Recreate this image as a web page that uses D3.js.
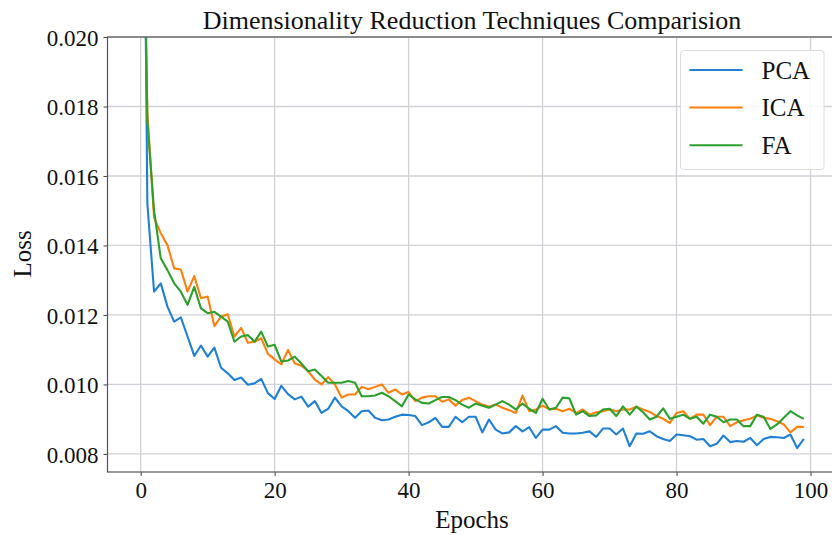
<!DOCTYPE html>
<html>
<head>
<meta charset="utf-8">
<script src="https://cdn.jsdelivr.net/npm/d3@7"></script>
<style>
  body { margin: 0; background: #fff; }
  text { font-family: "Liberation Serif", "DejaVu Serif", serif; }
</style>
</head>
<body>
<div class="canvas"></div>
<script>
// data
const seriesNames = ['PCA', 'ICA', 'FA']
const seriesColors = ['#1f80d6', '#ff7f0e', '#2ca02c']

const pca = [0.036, 0.0152, 0.01267, 0.01291, 0.01224, 0.01181, 0.01193, 0.01138, 0.01082, 0.01112,
    0.0108, 0.01106, 0.01048, 0.01032, 0.01013, 0.0102, 0.00999, 0.01003, 0.01016, 0.00975,
    0.00958, 0.00996, 0.00972, 0.00957, 0.00965, 0.00936, 0.00952, 0.00918, 0.0093, 0.00962,
    0.00937, 0.00923, 0.00904, 0.00923, 0.00925, 0.00904, 0.00897, 0.00899, 0.00907, 0.00913,
    0.00912, 0.00909, 0.00883, 0.00891, 0.00904, 0.00878, 0.00878, 0.00907, 0.00891, 0.00907,
    0.00907, 0.00862, 0.00899, 0.0087, 0.00859, 0.00862, 0.0088, 0.00865, 0.00877, 0.00846,
    0.0087, 0.0087, 0.0088, 0.00861, 0.00859, 0.00859, 0.00861, 0.00865, 0.00849, 0.00873,
    0.00873, 0.00856, 0.00873, 0.00822, 0.00859, 0.00858, 0.00865, 0.00851, 0.00843, 0.00837,
    0.00856, 0.00854, 0.00851, 0.00841, 0.00843, 0.00822, 0.00829, 0.00853, 0.00834, 0.00837,
    0.00835, 0.00846, 0.00825, 0.00843, 0.00849, 0.00848, 0.00846, 0.00856, 0.00817, 0.00843]

const ica = [0.030, 0.0178, 0.0148, 0.01435, 0.01401, 0.01334, 0.01331, 0.01267, 0.01312, 0.01248,
    0.01253, 0.01168, 0.01195, 0.01202, 0.01138, 0.01163, 0.0112, 0.01123, 0.01133, 0.01088,
    0.01072, 0.01058, 0.01099, 0.01061, 0.01054, 0.01038, 0.01014, 0.0100, 0.01021, 0.0100,
    0.00962, 0.00971, 0.00971, 0.00993, 0.00986, 0.00993, 0.0100, 0.00976, 0.00986, 0.00971,
    0.00978, 0.00952, 0.00962, 0.00966, 0.00966, 0.0095, 0.00957, 0.00939, 0.00955, 0.00962,
    0.00952, 0.00942, 0.00936, 0.00942, 0.00933, 0.00926, 0.00918, 0.00968, 0.00923, 0.00928,
    0.00939, 0.00928, 0.0093, 0.00923, 0.0093, 0.00918, 0.00928, 0.00913, 0.0092, 0.00923,
    0.00928, 0.00923, 0.00928, 0.00928, 0.00936, 0.00928, 0.00921, 0.00909, 0.00901, 0.00889,
    0.00918, 0.00923, 0.00901, 0.00913, 0.00913, 0.00883, 0.00907, 0.00907, 0.0088, 0.00891,
    0.00897, 0.00901, 0.00911, 0.00904, 0.00901, 0.00894, 0.00885, 0.00862, 0.00878, 0.00878]

const fa = [0.029, 0.0176, 0.0150, 0.01363, 0.01329, 0.01291, 0.01267, 0.01229, 0.01281, 0.01219,
    0.01205, 0.01209, 0.01195, 0.01181, 0.01123, 0.01138, 0.01142, 0.01123, 0.01152, 0.01109,
    0.01114, 0.01066, 0.01069, 0.0108, 0.0106, 0.01038, 0.01043, 0.01024, 0.01005, 0.01005,
    0.01005, 0.0101, 0.01005, 0.00966, 0.00966, 0.00968, 0.00976, 0.00966, 0.00952, 0.00937,
    0.00971, 0.00957, 0.00947, 0.00945, 0.00955, 0.00964, 0.00964, 0.00955, 0.00942, 0.00933,
    0.00945, 0.00939, 0.00933, 0.00942, 0.00952, 0.00942, 0.00928, 0.00945, 0.0093, 0.00918,
    0.00959, 0.00928, 0.00933, 0.00962, 0.0096, 0.00913, 0.00923, 0.00909, 0.00911, 0.00928,
    0.0093, 0.00909, 0.00937, 0.00913, 0.00936, 0.0092, 0.00899, 0.00907, 0.00931, 0.00901,
    0.00907, 0.00913, 0.00901, 0.00907, 0.00887, 0.00913, 0.00907, 0.00891, 0.00899, 0.00899,
    0.0088, 0.0088, 0.00913, 0.00907, 0.00872, 0.00885, 0.00904, 0.00923, 0.00911, 0.00901]

const xTicks = [0, 20, 40, 60, 80, 100]
const yTicks = [0.008, 0.010, 0.012, 0.014, 0.016, 0.018, 0.020]

const width = 832
const height = 535
const margin = { top: 37, right: -5, bottom: 63, left: 107.5 }
const graphWidth = width - margin.left - margin.right
const graphHeight = height - margin.top - margin.bottom

const svg = d3.select('.canvas')
    .append('svg')
    .attr('width', width)
    .attr('height', height)

const graph = svg.append('g')
    .attr('transform', `translate(${margin.left},${margin.top})`)

// scale
const x = d3.scaleLinear()
    .domain([-4.95, 103.95])
    .range([0, graphWidth])

const y = d3.scaleLinear()
    .domain([0.00748, 0.020])
    .range([graphHeight, 0])

// grid
graph.append('g')
    .selectAll('line')
    .data(xTicks)
    .enter()
    .append('line')
    .attr('x1', d => x(d)).attr('x2', d => x(d))
    .attr('y1', 0).attr('y2', graphHeight)
    .attr('stroke', '#d2d0d8')
    .attr('stroke-width', 1.3)

graph.append('g')
    .selectAll('line')
    .data(yTicks)
    .enter()
    .append('line')
    .attr('x1', 0).attr('x2', graphWidth)
    .attr('y1', d => y(d)).attr('y2', d => y(d))
    .attr('stroke', '#d2d0d8')
    .attr('stroke-width', 1.3)

// lines
svg.append('defs').append('clipPath')
    .attr('id', 'clip')
    .append('rect')
    .attr('width', graphWidth)
    .attr('height', graphHeight)

const line = d3.line()
    .x((d, i) => x(i))
    .y(d => y(d))

const allSeries = [pca, ica, fa]
graph.append('g')
    .attr('clip-path', 'url(#clip)')
    .selectAll('path')
    .data(allSeries)
    .enter()
    .append('path')
    .attr('d', line)
    .attr('fill', 'none')
    .attr('stroke', (d, i) => seriesColors[i])
    .attr('stroke-width', 2.1)
    .attr('stroke-linejoin', 'round')

// axes
const xAxisGroup = graph.append('g')
    .attr('transform', `translate(0,${graphHeight})`)
const yAxisGroup = graph.append('g')

const xAxis = d3.axisBottom(x)
    .tickValues(xTicks)
    .tickSize(4)
    .tickPadding(6)
    .tickFormat(d3.format('d'))
const yAxis = d3.axisLeft(y)
    .tickValues(yTicks)
    .tickSize(4)
    .tickPadding(5)
    .tickFormat(d3.format('.3f'))

xAxisGroup.call(xAxis)
yAxisGroup.call(yAxis)

xAxisGroup.attr('font-family', '"Liberation Serif", serif').attr('font-size', 23)
yAxisGroup.attr('font-family', '"Liberation Serif", serif').attr('font-size', 23)

graph.selectAll('.domain').remove()
graph.selectAll('.tick line').attr('stroke', '#444').attr('stroke-width', 1)
graph.selectAll('.tick text')
    .attr('fill', '#111')
yAxisGroup.selectAll('.tick text').attr('dy', '0.36em')

// spines
graph.append('rect')
    .attr('x', 0).attr('y', 0)
    .attr('width', graphWidth)
    .attr('height', graphHeight)
    .attr('fill', 'none')
    .attr('stroke', '#555')
    .attr('stroke-width', 1.2)

// title and labels
svg.append('text')
    .attr('x', 472)
    .attr('y', 29)
    .attr('text-anchor', 'middle')
    .attr('font-size', 26)
    .attr('fill', '#111')
    .text('Dimensionality Reduction Techniques Comparision')

svg.append('text')
    .attr('x', 472)
    .attr('y', 528)
    .attr('text-anchor', 'middle')
    .attr('font-size', 25)
    .attr('fill', '#111')
    .text('Epochs')

svg.append('text')
    .attr('transform', `translate(31,254) rotate(-90)`)
    .attr('text-anchor', 'middle')
    .attr('font-size', 25)
    .attr('fill', '#111')
    .text('Loss')

// legend
const legend = svg.append('g')
    .attr('transform', 'translate(680.5,50.5)')

legend.append('rect')
    .attr('width', 143.5)
    .attr('height', 119)
    .attr('rx', 3)
    .attr('fill', '#fff')
    .attr('fill-opacity', 0.85)
    .attr('stroke', '#dcdcdc')
    .attr('stroke-width', 1)

const items = legend.selectAll('g.item')
    .data(seriesNames)
    .enter()
    .append('g')
    .attr('class', 'item')
    .attr('transform', (d, i) => `translate(0,${19.5 + i * 37.6})`)

items.append('line')
    .attr('x1', 9).attr('x2', 62)
    .attr('stroke', (d, i) => seriesColors[i])
    .attr('stroke-width', 2)

items.append('text')
    .attr('x', 81)
    .attr('dy', '0.35em')
    .attr('font-size', 25)
    .attr('fill', '#111')
    .text(d => d)
</script>
</body>
</html>
